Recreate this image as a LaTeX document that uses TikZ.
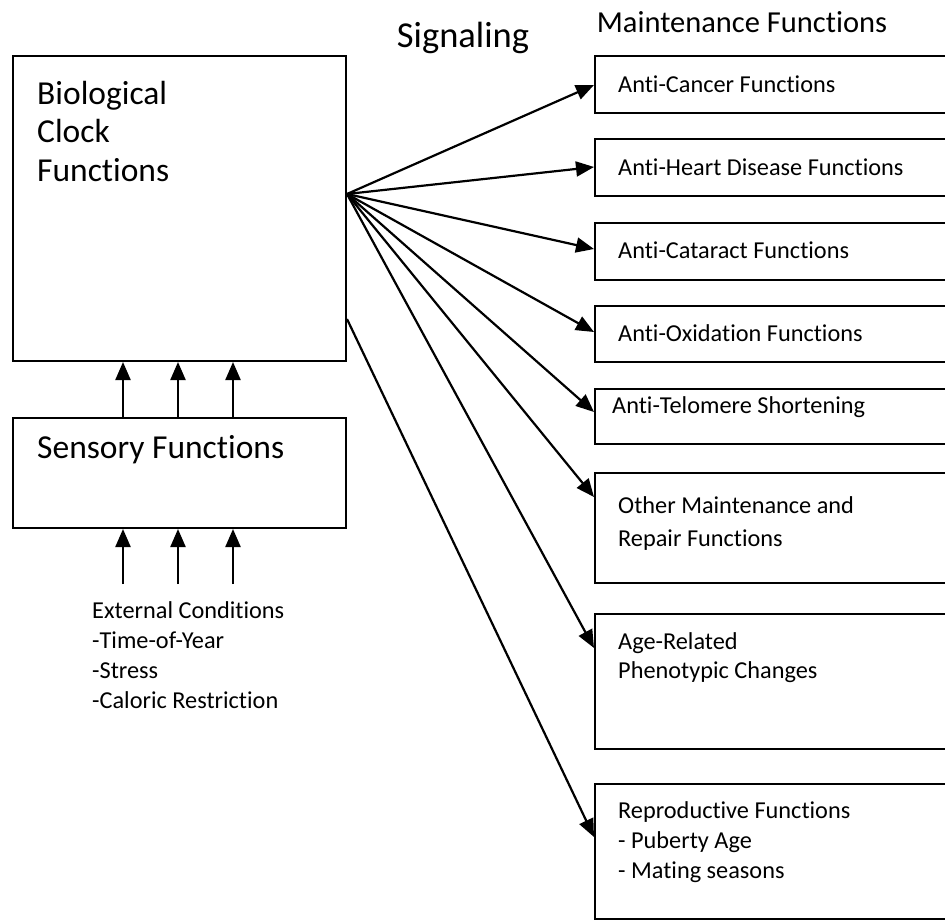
\documentclass[tikz,border=0pt]{standalone}
\usepackage{fontspec}
\setmainfont{Carlito}[Ligatures=NoCommon]
\usetikzlibrary{arrows.meta}

\tikzset{
	box/.style={draw, line width=2pt, inner sep=0, anchor=north west},
	mbox/.style={box, minimum width=400pt},
	arr/.style={line width=2.2pt, -{Triangle[length=18pt, width=15pt]}},
	big/.style={inner sep=0, font=\fontsize{33.5}{38.5}\selectfont, align=left},
	txt/.style={inner sep=0, anchor=west, font=\fontsize{24.3}{30}\selectfont, align=left}
}

\begin{document}
\begin{tikzpicture}[x=1pt, y=-1pt]
		\useasboundingbox (0,0) rectangle (945,920);
		\clip (0,0) rectangle (945,920);

		\node[box, minimum width=333pt, minimum height=305pt] (clock) at (12,55) {};
		\node[big, anchor=west] (clocktxt) at (37,131) {Biological\\Clock\\Functions};
		\node[box, minimum width=333pt, minimum height=110pt] (sens) at (12,417) {};
		\node[big, anchor=west] (senstxt) at (37,450) {Sensory Functions};
		\node[txt] (ext) at (92,655) {External Conditions\\-Time-of-Year\\-Stress\\-Caloric Restriction};

		\node[big, font=\fontsize{36.5}{40}\selectfont] (sig) at (463,38) {Signaling};
		\node[big, font=\fontsize{30.5}{36}\selectfont] (maint) at (742,22) {Maintenance Functions};

		\node[mbox, minimum height=57pt] (canc) at (594,55) {};
		\node[mbox, minimum height=57pt] (heart) at (594,138) {};
		\node[mbox, minimum height=57pt] (cat) at (594,222) {};
		\node[mbox, minimum height=56pt] (oxid) at (594,305) {};
		\node[mbox, minimum height=55pt] (telo) at (594,388) {};
		\node[mbox, minimum height=110pt] (other) at (594,472) {};
		\node[mbox, minimum height=135pt] (age) at (594,613) {};
		\node[mbox, minimum height=135pt] (repro) at (594,783) {};

		\node[txt] (canctxt) at (618,84) {Anti-Cancer Functions};
		\node[txt] (hearttxt) at (618,167) {Anti-Heart Disease Functions};
		\node[txt] (cattxt) at (618,250) {Anti-Cataract Functions};
		\node[txt] (oxidtxt) at (618,333) {Anti-Oxidation Functions};
		\node[txt] (telotxt) at (612,407) {Anti-Telomere Shortening};
		\node[txt, font=\fontsize{24.3}{33}\selectfont] (othertxt) at (618,523.5) {Other Maintenance and\\Repair Functions};
		\node[txt, font=\fontsize{24.3}{29}\selectfont] (agetxt) at (618,657.5) {Age-Related\\Phenotypic Changes};
		\node[txt] (reprotxt) at (618,842) {Reproductive Functions\\- Puberty Age\\- Mating seasons};

		\foreach \dx in {111,166,221} {
			\draw[arr] ([xshift=\dx pt]sens.north west) -- ([xshift=\dx pt]clock.south west);
		}
		\foreach \dx [count=\i] in {111,166,221} {
			\coordinate (ext\i) at ([xshift=\dx pt, yshift=-55pt]sens.south west);
			\draw[arr] (ext\i) -- (ext\i |- sens.south);
		}

		\draw[arr] ([yshift=14.5pt]clock.east) -- ([yshift=-30pt]canc.north west);
		\draw[arr] ([yshift=14.5pt]clock.east) -- ([yshift=-29pt]heart.north west);
		\draw[arr] ([yshift=14.5pt]clock.east) -- ([yshift=-27pt]cat.north west);
		\draw[arr] ([yshift=14.5pt]clock.east) -- ([yshift=-27pt]oxid.north west);
		\draw[arr] ([yshift=14.5pt]clock.east) -- ([yshift=-24pt]telo.north west);
		\draw[arr] ([yshift=14.5pt]clock.east) -- ([yshift=-25pt]other.north west);
		\draw[arr] ([yshift=14.5pt]clock.east) -- ([yshift=-35pt]age.north west);
		\draw[arr] ([yshift=-110.5pt]clock.east) -- ([yshift=-54pt]repro.north west);
	\end{tikzpicture}
\end{document}
